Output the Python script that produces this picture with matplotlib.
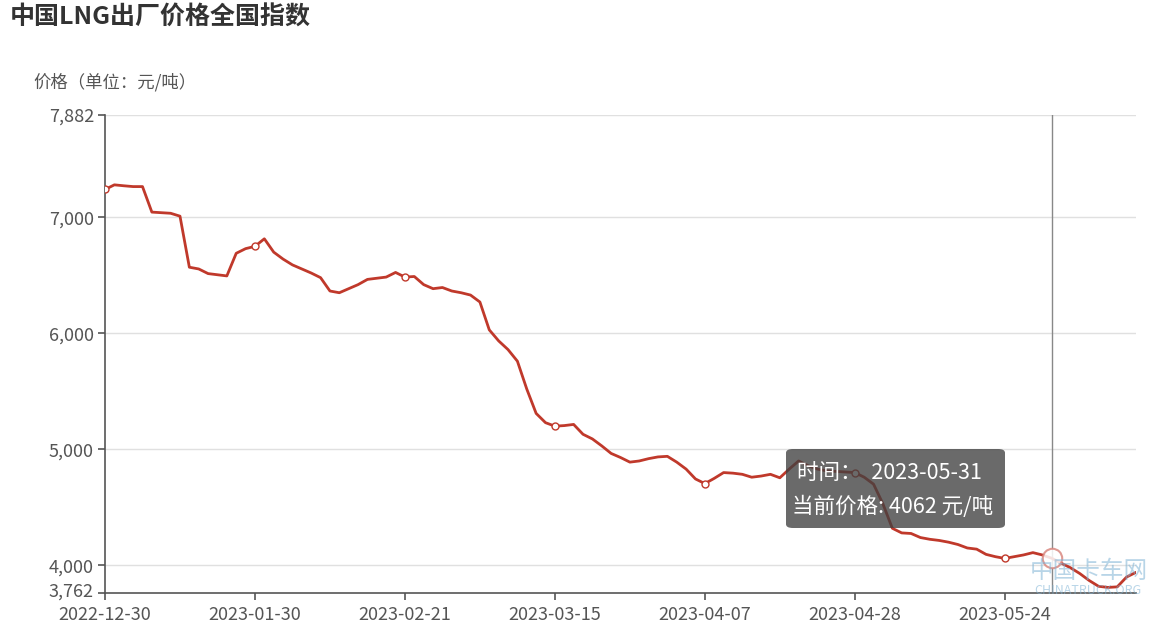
import matplotlib
matplotlib.use("Agg")
import matplotlib.pyplot as plt
from matplotlib.patches import FancyBboxPatch
from matplotlib.ticker import FuncFormatter
from matplotlib.transforms import ScaledTranslation

plt.rcParams['font.family'] = ['Noto Sans CJK SC', 'DejaVu Sans']

title = "中国LNG出厂价格全国指数"
y_name = "价格（单位：元/吨）"

prices = [
    7240, 7280, 7272, 7265, 7265, 7045, 7040, 7035, 7010, 6570,
    6555, 6515, 6505, 6495, 6690, 6730, 6750, 6815, 6700, 6640,
    6590, 6555, 6520, 6480, 6365, 6350, 6385, 6420, 6465, 6475,
    6485, 6525, 6485, 6490, 6420, 6385, 6395, 6365, 6350, 6330,
    6270, 6030, 5935, 5860, 5760, 5520, 5310, 5230, 5200, 5205,
    5215, 5130, 5090, 5030, 4965, 4930, 4890, 4900, 4920, 4935,
    4940, 4890, 4830, 4745, 4705, 4750, 4800, 4795, 4785, 4760,
    4770, 4785, 4755, 4830, 4900, 4860, 4830, 4815, 4810, 4805,
    4800, 4760, 4700, 4530, 4320, 4280, 4275, 4240, 4225, 4215,
    4200, 4180, 4150, 4140, 4095, 4075, 4060, 4075, 4090, 4110,
    4090, 4062, 4020, 3980, 3930, 3870, 3820, 3810, 3815, 3900,
    3940,
]
tick_labels = ["2022-12-30", "2023-01-30", "2023-02-21", "2023-03-15",
               "2023-04-07", "2023-04-28", "2023-05-24"]
tick_step = 16
y_ticks = [3762, 4000, 5000, 6000, 7000, 7882]
y_min, y_max = 3762, 7882
hover_index = 101
hover_date = "2023-05-31"
hover_unit = "元/吨"

line_color = "#c0392b"
x = list(range(len(prices)))

fig = plt.figure(figsize=(11.59, 6.31), dpi=100)
ax = fig.add_axes([105/1159, 1-593/631, (1136-105)/1159, (593-115)/631])

ax.plot(x, prices, color=line_color, lw=2.0, solid_joinstyle='round',
        solid_capstyle='round', zorder=3)
mk = x[::tick_step]
ax.plot(mk, [prices[i] for i in mk], ls='none', marker='o', ms=5,
        mfc='white', mec=line_color, mew=1, zorder=4)

ax.set_xlim(0, len(prices) - 1)
ax.set_ylim(y_min, y_max)
ax.set_yticks(y_ticks)
ax.yaxis.set_major_formatter(FuncFormatter(lambda v, p: f"{int(round(v)):,}"))
ax.set_xticks(x[::tick_step][:len(tick_labels)])
ax.set_xticklabels(tick_labels)

for v in y_ticks[1:]:
    ax.axhline(v, color='#e0e0e0', lw=1, zorder=1)

for s in ['top', 'right']:
    ax.spines[s].set_visible(False)
for s in ['left', 'bottom']:
    ax.spines[s].set_color('#555555')
    ax.spines[s].set_linewidth(1.2)
ax.tick_params(axis='both', colors='#555555', labelcolor='#555555',
               labelsize=13, length=5, width=1.2, direction='out')
ax.tick_params(axis='y', pad=3)
ax.tick_params(axis='x', pad=4)
# lowest y label sits a little above its tick, as in the reference
lab0 = ax.yaxis.get_major_ticks()[0].label1
lab0.set_transform(lab0.get_transform() + ScaledTranslation(0, 3/100, fig.dpi_scale_trans))

# hover line and marker
ax.axvline(hover_index, color='#888888', lw=1, zorder=2)
ax.plot([hover_index], [prices[hover_index]], marker='o', ms=14, mfc='white',
        mec='#d98880', mew=1.5, alpha=0.85, zorder=5)

# tooltip
fig_w, fig_h = 1159, 631
tx0, ty0, tw, th = 786, 449, 219, 79
box = FancyBboxPatch((tx0/fig_w, 1-(ty0+th)/fig_h), tw/fig_w, th/fig_h,
                     boxstyle="round,pad=0,rounding_size=0.006",
                     transform=fig.transFigure, facecolor=(0.25, 0.25, 0.25, 0.78),
                     edgecolor='none', zorder=10)
fig.patches.append(box)
fig.text(797/fig_w, 1-473/fig_h, f"时间：  {hover_date}", color='white',
         fontsize=15.5, va='center', ha='left', zorder=11)
fig.text(792/fig_w, 1-507/fig_h, f"当前价格: {prices[hover_index]} {hover_unit}",
         color='white', fontsize=15.5, va='center', ha='left', zorder=11)

# title and axis name
fig.text(10/fig_w, 1-18/fig_h, title, fontsize=18, fontweight='bold',
         color='#333333', va='center', ha='left')
fig.text(33/fig_w, 1-82/fig_h, y_name, fontsize=12.5, color='#555555',
         va='center', ha='left')

# watermark
fig.text(1030/fig_w, 1-571/fig_h, "中国卡车网", fontsize=17, color='#7fb3d5',
         alpha=0.55, va='center', ha='left', zorder=12)
fig.text(1034/fig_w, 1-590/fig_h, "CHINATRUCK.ORG", fontsize=9, color='#7fb3d5',
         alpha=0.55, va='center', ha='left', zorder=12)

fig.savefig("out.png", dpi=100, facecolor='white')
